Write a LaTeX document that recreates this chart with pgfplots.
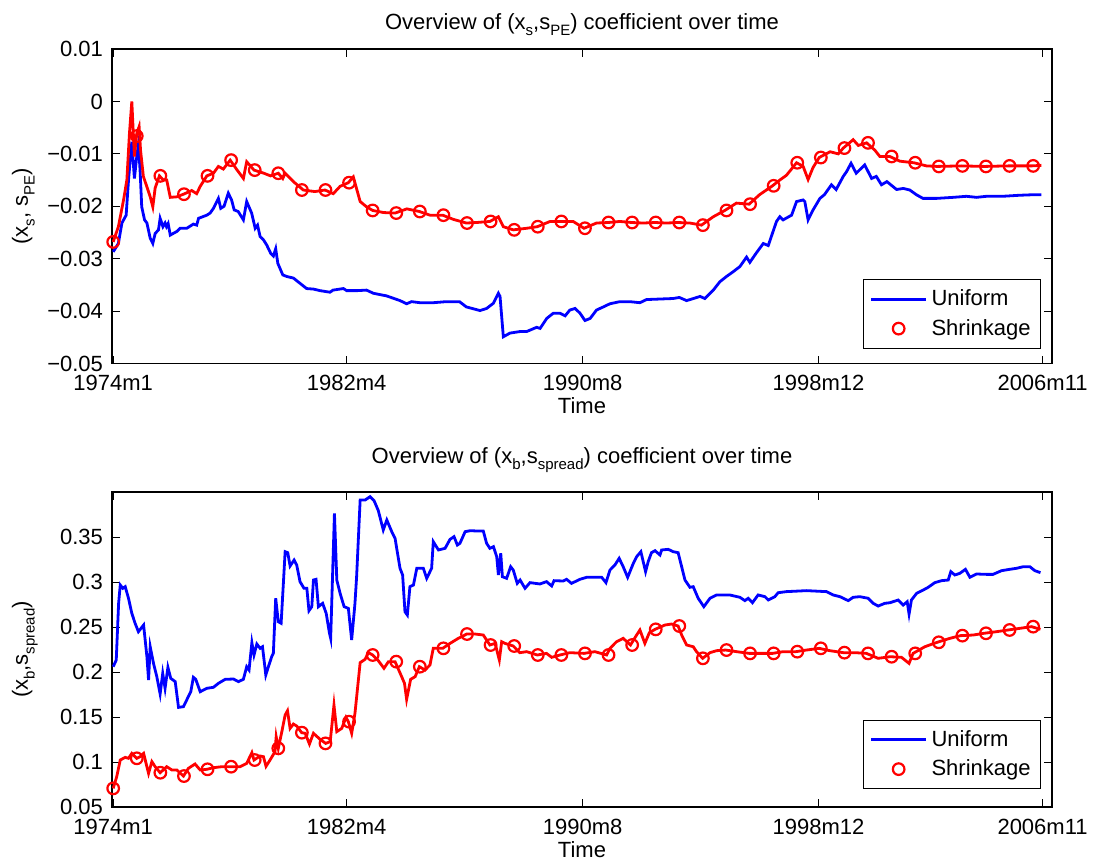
\documentclass[border=0pt]{standalone}
\usepackage{fontspec}
\setmainfont{Liberation Sans}
\usepackage{pgfplots}
\pgfplotsset{compat=1.18}
\newcommand{\sub}[1]{\raisebox{-3.3pt}{\fontsize{7.5}{9}\selectfont #1}}
\pgfplotsset{
  myax/.style={
    scale only axis, width=470pt,
    xmin=-0.5, xmax=398,
    xtick={0,99,199,299,394},
    xticklabels={1974m1,1982m4,1990m8,1998m12,2006m11},
    scaled y ticks=false,
    tick align=inside, major tick length=4pt,
    every tick/.style={black, line width=0.5pt},
    axis line style={line width=0.6pt},
    tick label style={font=\fontsize{11}{13}\selectfont},
    label style={font=\fontsize{11}{13}\selectfont},
    title style={font=\fontsize{11}{13}\selectfont},
    every axis title shift=0pt,
    xticklabel style={yshift=-2.3pt},
    yticklabel style={xshift=-1pt},
    xlabel={Time},
    xlabel style={at={(axis description cs:0.5,0)}, anchor=base, yshift=-25pt},
    ylabel style={at={(axis description cs:-0.0894,0.5)}, anchor=base},
    legend image code/.code={\draw[mark repeat=2,mark phase=2,##1] plot coordinates {(0pt,0pt) (13.75pt,0pt) (27.5pt,0pt)};},
    legend style={at={(axis description cs:1,0)}, anchor=south east, xshift=-5.5pt,
      draw=black, fill=white, font=\fontsize{11}{13}\selectfont,
      inner xsep=3pt, inner ysep=3pt, row sep=1.2pt, nodes={inner sep=2pt}},
    legend cell align=left,
    ulin/.style={blue, line width=1.4pt},
    rlin/.style={red, line width=1.4pt},
    rmk/.style={red, only marks, mark=o, mark size=2.9pt, line width=1.1pt},
  },
}
\begin{document}
\begin{tikzpicture}[x=1pt,y=1pt]
\path[use as bounding box] (0,0) rectangle (548,-433);
% ---------------- top axis ----------------
\begin{axis}[myax, at={(56pt,-181.75pt)}, anchor=south west, height=157.25pt,
  ymin=-0.05, ymax=0.01,
  ytick={-0.05,-0.04,-0.03,-0.02,-0.01,0,0.01},
  yticklabels={−0.05,−0.04,−0.03,−0.02,−0.01,0,0.01},
  title={Overview of (x\sub{s},s\sub{PE}) coefficient over time},
  title style={at={(axis description cs:0.5,1)}, anchor=base, yshift=10pt},
  ylabel={(x\sub{s}, s\sub{PE})},
  legend style={yshift=7.5pt}]
\addplot[ulin] coordinates {
(0,-0.0287) (2.2,-0.0271) (3.7,-0.0232) (5.5,-0.0217) (6.5,-0.0150) (7.9,-0.0077)
(9.0,-0.0147) (10,-0.0105) (10.7,-0.0083) (11.4,-0.0131) (12.1,-0.0201) (13.3,-0.0226)
(14.3,-0.0232) (15.7,-0.0261) (16.8,-0.0271) (17.8,-0.0252) (19.2,-0.0245) (19.9,-0.0223)
(21.1,-0.0239) (22,-0.0232) (22.6,-0.0239) (23.3,-0.0233) (24.2,-0.0255) (27,-0.0248)
(28.4,-0.0242) (31.2,-0.0242) (34,-0.0234) (35.4,-0.0236) (36.2,-0.0223) (39.7,-0.0217)
(41.1,-0.0213) (42.5,-0.0204) (44.6,-0.0185) (45.6,-0.0204) (47,-0.0200) (48.8,-0.0175)
(50.2,-0.0188) (51.3,-0.0207) (53,-0.0210) (55.2,-0.0226) (56.6,-0.0191) (58.7,-0.0213)
(60.2,-0.0242) (61.2,-0.0236) (62.3,-0.0258) (63.7,-0.0264) (65.1,-0.0274) (66.8,-0.0290)
(67.9,-0.0295) (68.9,-0.0281) (69.8,-0.0309) (71.9,-0.0331) (73.6,-0.0334) (76.4,-0.0337)
(79.2,-0.0347) (82,-0.0357) (84.9,-0.0358) (87.7,-0.0361) (91.9,-0.0364) (93.2,-0.0360)
(97.6,-0.0357) (99,-0.0361) (103.3,-0.0361) (107.4,-0.0360) (110.3,-0.0366) (115.9,-0.0371)
(121.6,-0.0380) (124.4,-0.0386) (126.5,-0.0382) (130.1,-0.0384) (135.7,-0.0384) (141.2,-0.0382)
(146.8,-0.0382) (149.7,-0.0392) (155.5,-0.0399) (158.3,-0.0395) (161.2,-0.0385) (163.3,-0.0366)
(164,-0.0372) (165.4,-0.0449) (168.2,-0.0442) (172.5,-0.0439) (175.3,-0.0439) (179.5,-0.0431)
(181,-0.0433) (183.8,-0.0414) (186.6,-0.0404) (189.4,-0.0404) (191.6,-0.0409) (193.6,-0.0398)
(195.8,-0.0395) (197.9,-0.0404) (200,-0.0418) (202.2,-0.0414) (204.9,-0.0398) (207.8,-0.0392)
(210.6,-0.0386) (214.8,-0.0382) (219,-0.0382) (223.3,-0.0384) (226.1,-0.0378) (231.7,-0.0377)
(237.4,-0.0376) (240,-0.0374) (243.1,-0.0380) (246,-0.0376) (248.8,-0.0372) (250.8,-0.0376)
(254.4,-0.0360) (257.2,-0.0344) (260,-0.0334) (262.8,-0.0325) (265.7,-0.0315) (268.5,-0.0297)
(269.9,-0.0307) (272.5,-0.0290) (275.6,-0.0271) (277.7,-0.0275) (281.2,-0.0229) (282.6,-0.0220)
(284,-0.0226) (287.6,-0.0217) (289.7,-0.0191) (292.5,-0.0188) (293.2,-0.0191) (294.6,-0.0226)
(296.7,-0.0207) (299.6,-0.0185) (301.5,-0.0178) (304.5,-0.0159) (306.5,-0.0168) (309.5,-0.0143)
(310.9,-0.0134) (312.8,-0.0118) (315,-0.0137) (318.6,-0.0121) (321.5,-0.0147) (323.5,-0.0143)
(325.7,-0.0159) (328,-0.0153) (332.1,-0.0168) (335,-0.0166) (337.7,-0.0169) (340.5,-0.0178)
(343.3,-0.0185) (349,-0.0185) (356.1,-0.0183) (361.7,-0.0181) (366,-0.0183) (370.2,-0.0181)
(377,-0.0181) (384.3,-0.0179) (390,-0.0178) (393.5,-0.0178)
};
\addlegendentry{Uniform}
\addplot[rlin, forget plot] coordinates {
(0,-0.0268) (2.2,-0.0239) (4.4,-0.0188) (5.8,-0.0150) (6.9,-0.0061) (7.9,0.0000)
(9.0,-0.0105) (10,-0.0061) (11,-0.0048) (11.6,-0.0093) (12.8,-0.0143) (14.3,-0.0163)
(15.7,-0.0182) (16.8,-0.0201) (17.8,-0.0165) (19.6,-0.0142) (21.3,-0.0150) (22.7,-0.0150)
(24.2,-0.0183) (27,-0.0182) (29.8,-0.0177) (33.3,-0.0170) (35.4,-0.0176) (36.9,-0.0162)
(39.7,-0.0142) (42.5,-0.0137) (44.6,-0.0124) (46.7,-0.0129) (49.6,-0.0112) (52.4,-0.0130)
(55.2,-0.0147) (56.6,-0.0115) (59.7,-0.0131) (63.9,-0.0137) (66.7,-0.0142) (70,-0.0137)
(71.9,-0.0147) (72.9,-0.0137) (76.4,-0.0153) (80.6,-0.0169) (85.5,-0.0172) (89.8,-0.0169)
(93.3,-0.0176) (96.2,-0.0162) (99.7,-0.0155) (101.8,-0.0144) (104.7,-0.0191) (107.4,-0.0201)
(110,-0.0208) (114.6,-0.0212) (119.5,-0.0213) (124.5,-0.0205) (129.8,-0.0210) (134.3,-0.0217)
(139.7,-0.0217) (144.2,-0.0225) (149.7,-0.0232) (154,-0.0231) (159.7,-0.0229) (163.3,-0.0220)
(165.4,-0.0239) (169.6,-0.0245) (175.3,-0.0242) (179.8,-0.0239) (185.2,-0.0229) (189.4,-0.0229)
(195,-0.0229) (199.6,-0.0242) (204.9,-0.0232) (209.9,-0.0231) (214.8,-0.0229) (219.8,-0.0231)
(224.7,-0.0232) (229.7,-0.0231) (234.6,-0.0232) (239.5,-0.0231) (244.5,-0.0232) (249.4,-0.0236)
(254.4,-0.0220) (259.3,-0.0208) (264.2,-0.0194) (269.6,-0.0196) (274,-0.0178) (279.5,-0.0161)
(282.6,-0.0150) (285.4,-0.0141) (289.7,-0.0117) (292.5,-0.0124) (294.6,-0.0149) (296.7,-0.0126)
(299.3,-0.0107) (303.9,-0.0096) (307.4,-0.0100) (309.5,-0.0089) (313.7,-0.0073) (315.9,-0.0084)
(319.4,-0.0079) (322.9,-0.0093) (325,-0.0105) (329.2,-0.0105) (333.5,-0.0114) (339.4,-0.0117)
(344.8,-0.0123) (349.3,-0.0124) (359.6,-0.0123) (369.5,-0.0124) (379.4,-0.0123) (389.3,-0.0123)
(393.5,-0.0122)
};
\addplot[rmk] coordinates {
(0,-0.0268) (10,-0.0066) (20,-0.0142) (30,-0.0177) (40,-0.0142) (50,-0.0112) (60,-0.0131)
(70,-0.0137) (80,-0.0169) (90,-0.0169) (100,-0.0155) (110,-0.0208) (120,-0.0213) (130,-0.0210)
(140,-0.0217) (150,-0.0232) (160,-0.0229) (170,-0.0245) (180,-0.0239) (190,-0.0229) (200,-0.0242)
(210,-0.0231) (220,-0.0231) (230,-0.0231) (240,-0.0231) (250,-0.0236) (260,-0.0208) (270,-0.0196)
(280,-0.0161) (290,-0.0117) (300,-0.0107) (310,-0.0089) (320,-0.0079) (330,-0.0105) (340,-0.0117)
(350,-0.0124) (360,-0.0123) (370,-0.0124) (380,-0.0123) (390,-0.0123)
};
\addlegendentry{Shrinkage}
\end{axis}
% ---------------- bottom axis ----------------
\begin{axis}[myax, at={(56pt,-403.5pt)}, anchor=south west, height=157.5pt,
  ymin=0.05, ymax=0.4,
  ytick={0.05,0.1,0.15,0.2,0.25,0.3,0.35},
  yticklabels={0.05,0.1,0.15,0.2,0.25,0.3,0.35},
  title={Overview of (x\sub{b},s\sub{spread}) coefficient over time},
  title style={at={(axis description cs:0.5,1)}, anchor=base, yshift=14.5pt},
  ylabel={(x\sub{b},s\sub{spread})},
  legend style={yshift=9pt}]
\addplot[ulin] coordinates {
(0,0.2059) (1.3,0.2133) (2.3,0.2763) (3.0,0.2967) (4.1,0.2930) (5.1,0.2948) (6.5,0.2819)
(7.9,0.2652) (9.3,0.2541) (10.7,0.2448) (12.9,0.2522) (14.3,0.2170) (15.0,0.1911) (15.7,0.2281)
(17.1,0.2096) (18.5,0.1948) (19.9,0.1756) (21.0,0.1985) (22.0,0.1819) (23.2,0.2052) (24.4,0.1930)
(26.3,0.1893) (27.7,0.1607) (29.8,0.1615) (31.5,0.1707) (32.9,0.1781) (34.0,0.1941) (35.0,0.1919)
(36.9,0.1781) (39.7,0.1819) (42.5,0.1830) (44.6,0.1874) (47.5,0.1919) (51.0,0.1922) (53.1,0.1893)
(55.2,0.1919) (56.6,0.2059) (57.6,0.2022) (58.8,0.2326) (59.7,0.2189) (60.9,0.2311) (62.3,0.2263)
(63.3,0.2281) (64.7,0.1967) (65.8,0.2059) (67.2,0.2170) (67.9,0.2207) (68.9,0.2819) (70.0,0.2559)
(71.2,0.2541) (72.9,0.3337) (74.0,0.3326) (75.0,0.3178) (76.7,0.3244) (77.8,0.3189) (79.2,0.3004)
(80.9,0.2930) (82.1,0.2930) (83.0,0.2681) (84.2,0.2726) (84.9,0.3022) (86.0,0.3030) (87.0,0.2726)
(88.8,0.2763) (90.3,0.2652) (91.7,0.2430) (92.2,0.2374) (93.8,0.3763) (94.8,0.3022) (96.2,0.2874)
(97.9,0.2726) (99.7,0.2707) (101.1,0.2356) (102.5,0.2763) (103.2,0.3059) (104.7,0.3911) (106.8,0.3911)
(108.9,0.3948) (110.6,0.3904) (112.4,0.3793) (114.5,0.3578) (116.0,0.3689) (118.1,0.3559) (119.5,0.3485)
(121.6,0.3152) (122.7,0.3078) (123.7,0.2670) (124.7,0.2633) (125.8,0.2948) (127.3,0.2967) (128.7,0.3152)
(131.5,0.3152) (132.9,0.3041) (135.0,0.3152) (135.7,0.3448) (137.9,0.3356) (140.7,0.3374) (142.8,0.3474)
(144.5,0.3504) (145.9,0.3411) (147.0,0.3430) (149.2,0.3559) (151.3,0.3570) (154.1,0.3567) (156.9,0.3567)
(158.3,0.3430) (159.7,0.3374) (161.2,0.3393) (162.6,0.3281) (163.3,0.3078) (164.3,0.3319) (165.0,0.3059)
(166.8,0.3041) (168.5,0.3170) (169.6,0.3133) (171.3,0.2985) (172.5,0.3022) (174.6,0.2930) (176.7,0.2993)
(180.9,0.2978) (183.7,0.3004) (185.9,0.2956) (186.9,0.3015) (190.8,0.3011) (192.2,0.3030) (194.3,0.2985)
(197.9,0.3030) (200.7,0.3052) (207.1,0.3052) (208.9,0.2993) (210.6,0.3133) (212.7,0.3189) (214.5,0.3263)
(216.2,0.3170) (218.1,0.3052) (220.5,0.3207) (221.9,0.3281) (223.7,0.3337) (225.7,0.3115) (226.8,0.3226)
(228.2,0.3326) (229.7,0.3348) (231.8,0.3300) (232.5,0.3356) (235.3,0.3363) (237.4,0.3337) (239.5,0.3326)
(241.0,0.3170) (242.4,0.3022) (244.5,0.2941) (245.9,0.2948) (248.0,0.2819) (250.4,0.2726) (253.0,0.2819)
(255.8,0.2856) (261.4,0.2856) (265.7,0.2830) (267.8,0.2793) (269.2,0.2819) (271.0,0.2770) (273.4,0.2856)
(276.3,0.2837) (277.7,0.2800) (280.5,0.2837) (281.9,0.2881) (285.4,0.2893) (293.9,0.2904) (302.4,0.2893)
(305.2,0.2856) (308.1,0.2837) (311.6,0.2793) (313.7,0.2830) (316.5,0.2837) (320.1,0.2819) (322.2,0.2763)
(324.3,0.2733) (327.1,0.2763) (329.3,0.2770) (332.8,0.2800) (334.9,0.2744) (336.6,0.2781) (337.4,0.2644)
(338.4,0.2800) (340.6,0.2874) (343.4,0.2911) (345.5,0.2941) (348.3,0.2993) (351.2,0.3015) (354.0,0.3022)
(355.1,0.3115) (356.8,0.3078) (358.9,0.3096) (361.3,0.3141) (363.2,0.3052) (366.0,0.3089) (370.2,0.3085)
(373.0,0.3085) (376.6,0.3126) (380.1,0.3141) (382.9,0.3152) (385.8,0.3170) (388.6,0.3170) (390.7,0.3126)
(393.1,0.3104)
};
\addlegendentry{Uniform}
\addplot[rlin, forget plot] coordinates {
(0,0.0707) (1.5,0.0837) (3.0,0.1022) (5.1,0.1052) (6.5,0.1041) (7.9,0.1096) (10.0,0.1041)
(11.4,0.1059) (12.9,0.1096) (15.0,0.0874) (16.4,0.1004) (17.8,0.0948) (19.9,0.0881) (22.7,0.0948)
(24.9,0.0911) (27.0,0.0911) (29.8,0.0844) (31.9,0.0930) (34.7,0.0978) (36.9,0.0911) (39.7,0.0919)
(42.5,0.0937) (46.1,0.0948) (49.9,0.0948) (53.8,0.0948) (56.6,0.0985) (58.8,0.1104) (59.7,0.1022)
(62.3,0.1067) (63.7,0.1059) (64.8,0.0952) (66.5,0.1022) (68.6,0.1115) (69.1,0.1281) (70.0,0.1152)
(71.5,0.1337) (72.9,0.1522) (73.9,0.1570) (75.0,0.1374) (76.4,0.1422) (77.8,0.1400) (79.9,0.1326)
(81.4,0.1319) (83.2,0.1200) (84.9,0.1319) (87.7,0.1252) (90.1,0.1207) (92.0,0.1226) (93.6,0.1633)
(94.8,0.1337) (96.9,0.1374) (98.7,0.1496) (99.7,0.1448) (101.1,0.1319) (102.5,0.1541) (104.7,0.2104)
(106.8,0.2141) (108.2,0.2215) (110.0,0.2189) (112.4,0.2126) (114.8,0.2041) (116.7,0.2115) (119.5,0.2115)
(122.3,0.1948) (123.5,0.1874) (124.4,0.1696) (126.1,0.1919) (128.0,0.1948) (129.8,0.2059) (132.2,0.2022)
(134.3,0.2078) (135.7,0.2263) (139.7,0.2263) (142.8,0.2318) (146.3,0.2374) (149.9,0.2422) (153.4,0.2422)
(156.9,0.2411) (159.7,0.2300) (161.9,0.2318) (163.7,0.2133) (164.7,0.2337) (166.1,0.2318) (169.6,0.2289)
(172.4,0.2215) (175.3,0.2226) (179.8,0.2189) (183.7,0.2207) (185.9,0.2163) (189.4,0.2189) (193.6,0.2215)
(199.6,0.2207) (204.2,0.2226) (209.2,0.2189) (210.6,0.2263) (213.4,0.2337) (216.2,0.2374) (219.3,0.2300)
(221.9,0.2411) (223.3,0.2467) (225.4,0.2318) (227.3,0.2437) (229.7,0.2474) (233.9,0.2522) (236.7,0.2533)
(239.5,0.2511) (241.0,0.2411) (243.1,0.2300) (245.9,0.2281) (247.3,0.2226) (249.9,0.2152) (253.0,0.2215)
(255.8,0.2237) (259.6,0.2244) (264.3,0.2226) (269.6,0.2207) (274.1,0.2207) (279.5,0.2207) (284.0,0.2226)
(289.4,0.2226) (293.9,0.2244) (299.3,0.2263) (303.8,0.2237) (309.5,0.2215) (314.4,0.2215) (319.3,0.2207)
(324.3,0.2152) (329.3,0.2170) (334.2,0.2163) (337.4,0.2096) (339.1,0.2207) (344.1,0.2281) (349.3,0.2330)
(354.7,0.2374) (359.2,0.2404) (364.6,0.2411) (369.1,0.2430) (374.5,0.2448) (379.4,0.2467) (384.3,0.2485)
(389.3,0.2504) (393.1,0.2474)
};
\addplot[rmk] coordinates {
(0,0.0707) (10,0.1041) (20,0.0881) (30,0.0844) (40,0.0919) (50,0.0948) (60,0.1022) (70,0.1152)
(80,0.1326) (90,0.1207) (100,0.1448) (110,0.2189) (120,0.2115) (130,0.2059) (140,0.2263) (150,0.2422)
(160,0.2300) (170,0.2289) (180,0.2189) (190,0.2189) (200,0.2207) (210,0.2189) (220,0.2300) (230,0.2474)
(240,0.2511) (250,0.2152) (260,0.2244) (270,0.2207) (280,0.2207) (290,0.2226) (300,0.2263) (310,0.2215)
(320,0.2207) (330,0.2170) (340,0.2207) (350,0.2330) (360,0.2404) (370,0.2430) (380,0.2467) (390,0.2504)
};
\addlegendentry{Shrinkage}
\end{axis}
\end{tikzpicture}
\end{document}
